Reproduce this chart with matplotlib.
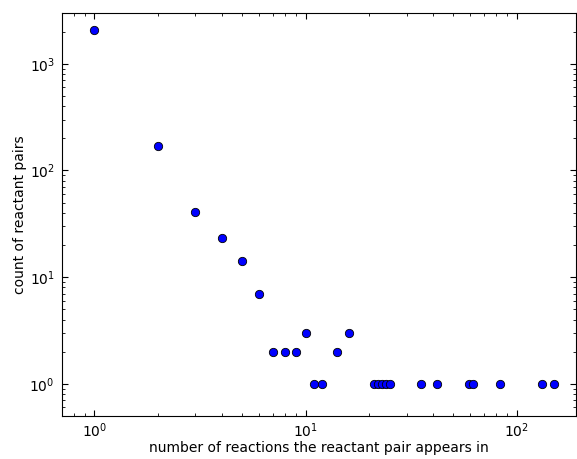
import matplotlib
matplotlib.use("Agg")
import matplotlib.pyplot as plt

# number of reactions a reactant pair appears in -> count of such pairs
n_reactions = [1, 2, 3, 4, 5, 6, 7, 8, 9, 10, 11, 12, 14, 16,
               21, 22, 23, 24, 25, 35, 42, 59, 62, 83, 131, 150]
pair_counts = [2080, 170, 41, 23, 14, 7, 2, 2, 2, 3, 1, 1, 2, 3,
               1, 1, 1, 1, 1, 1, 1, 1, 1, 1, 1, 1]

plt.rcParams["xtick.direction"] = "in"
plt.rcParams["ytick.direction"] = "in"
plt.rcParams["xtick.top"] = True
plt.rcParams["ytick.right"] = True
plt.rcParams["xtick.major.size"] = 4
plt.rcParams["ytick.major.size"] = 4
plt.rcParams["xtick.minor.size"] = 2
plt.rcParams["ytick.minor.size"] = 2
plt.rcParams["xtick.major.pad"] = 4
plt.rcParams["ytick.major.pad"] = 5

fig = plt.figure(figsize=(5.77, 4.59), dpi=100)
ax = fig.add_axes([0.107, 0.094, 0.891, 0.878])
ax.scatter(n_reactions, pair_counts, s=36, c="blue", edgecolors="black", linewidths=0.6, zorder=3)
ax.set_xscale("log")
ax.set_yscale("log")
ax.set_xlim(0.7, 190)
ax.set_ylim(0.5, 3000)
ax.set_xlabel("number of reactions the reactant pair appears in", labelpad=1)
ax.set_ylabel("count of reactant pairs", labelpad=2)
fig.savefig("out.png", dpi=100)
